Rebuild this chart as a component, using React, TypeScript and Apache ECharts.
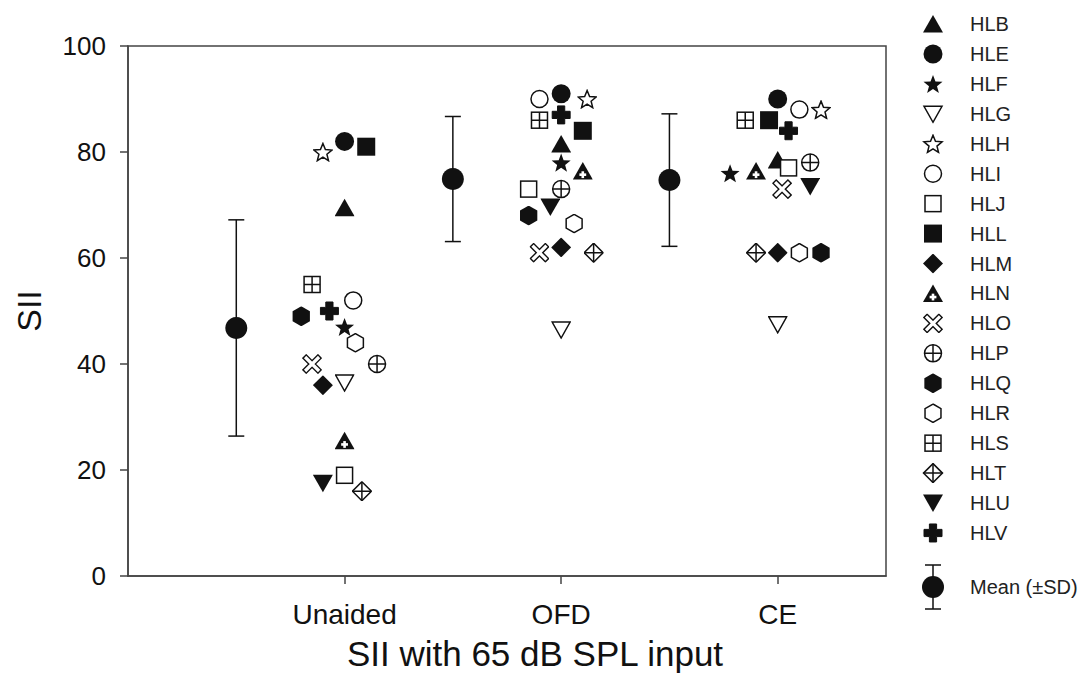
import React, { useEffect, useRef } from "react";
import * as echarts from "echarts";

// ---------- data ----------
const categories = ["Unaided", "OFD", "CE"];
const categoryPositions = [1, 2, 3];
const subjects = ["HLB", "HLE", "HLF", "HLG", "HLH", "HLI", "HLJ", "HLL", "HLM", "HLN", "HLO", "HLP", "HLQ", "HLR", "HLS", "HLT", "HLU", "HLV"];

// x positions (jittered around category positions) for each subject: [Unaided, OFD, CE]
const xUnaided = [1.0, 1.0, 1.0, 1.0, 0.9, 1.04, 1.0, 1.1, 0.9, 1.0, 0.85, 1.15, 0.8, 1.05, 0.85, 1.08, 0.9, 0.93];
const xOFD = [2.0, 2.0, 2.0, 2.0, 2.12, 1.9, 1.85, 2.1, 2.0, 2.1, 1.9, 2.0, 1.85, 2.06, 1.9, 2.15, 1.95, 2.0];
const xCE = [3.0, 3.0, 2.78, 3.0, 3.2, 3.1, 3.05, 2.96, 3.0, 2.9, 3.02, 3.15, 3.2, 3.1, 2.85, 2.9, 3.15, 3.05];

// SII values
const siiUnaided = [69.5, 82, 47, 36.5, 80, 52, 19, 81, 36, 25.5, 40, 40, 49, 44, 55, 16, 17.5, 50];
const siiOFD = [81.5, 91, 78, 46.5, 90, 90, 73, 84, 62, 76.4, 61, 73, 68, 66.5, 86, 61, 69.6, 87];
const siiCE = [78.5, 90, 76, 47.5, 88, 88, 77, 86, 61, 76.4, 73, 78, 61, 61, 86, 61, 73.5, 84];

// mean (+/- SD)
const meanPositions = [0.5, 1.5, 2.5];
const meanValues = [46.8, 74.9, 74.7];
const sdValues = [20.4, 11.8, 12.5];

const yTicks = [0, 20, 40, 60, 80, 100];

// ---------- symbols ----------
const K = "#111";
const OPEN = `fill="#fff" stroke="${K}" stroke-width="1.5"`;

function starPts(R: number, r: number, dy: number) {
  const pts: string[] = [];
  for (let i = 0; i < 10; i++) {
    const a = (-90 + i * 36) * Math.PI / 180;
    const rr = i % 2 === 0 ? R : r;
    pts.push((rr * Math.cos(a)).toFixed(2) + "," + (rr * Math.sin(a) + dy).toFixed(2));
  }
  return pts.join(" ");
}
const hexPts = (R: number) => {
  const p: string[] = [];
  for (let i = 0; i < 6; i++) {
    const a = (-90 + i * 60) * Math.PI / 180;
    p.push((R * Math.cos(a)).toFixed(2) + "," + (R * Math.sin(a)).toFixed(2));
  }
  return p.join(" ");
};

const shapes: Record<string, string> = {
  HLB: `<polygon points="0,-9 10,8.5 -10,8.5" fill="${K}"/>`,
  HLE: `<circle r="9.5" fill="${K}"/>`,
  HLF: `<polygon points="${starPts(10, 4.2, 1)}" fill="${K}"/>`,
  HLG: `<polygon points="-9,-7.5 9,-7.5 0,8.5" ${OPEN}/>`,
  HLH: `<polygon points="${starPts(9.5, 4.2, 1)}" ${OPEN}/>`,
  HLI: `<circle r="8.5" ${OPEN}/>`,
  HLJ: `<rect x="-8" y="-8" width="16" height="16" ${OPEN}/>`,
  HLL: `<rect x="-9" y="-9" width="18" height="18" fill="${K}"/>`,
  HLM: `<polygon points="0,-10 10,0 0,10 -10,0" fill="${K}"/>`,
  HLN: `<polygon points="0,-9 10,8.5 -10,8.5" fill="${K}"/><rect x="-1.3" y="0.2" width="2.6" height="6.8" fill="#fff"/><rect x="-3.4" y="2.3" width="6.8" height="2.6" fill="#fff"/>`,
  HLO: `<path d="M-8,-8 L8,8 M8,-8 L-8,8" stroke="${K}" stroke-width="6"/><path d="M-7,-7 L7,7 M7,-7 L-7,7" stroke="#fff" stroke-width="3.2"/>`,
  HLP: `<circle r="8.5" ${OPEN}/><path d="M0,-8.5V8.5M-8.5,0H8.5" stroke="${K}" stroke-width="1.5"/>`,
  HLQ: `<polygon points="${hexPts(10)}" fill="${K}"/>`,
  HLR: `<polygon points="${hexPts(9.2)}" ${OPEN}/>`,
  HLS: `<rect x="-8" y="-8" width="16" height="16" ${OPEN}/><path d="M0,-8V8M-8,0H8" stroke="${K}" stroke-width="1.5"/>`,
  HLT: `<polygon points="0,-9.5 9.5,0 0,9.5 -9.5,0" ${OPEN}/><path d="M0,-9.5V9.5M-9.5,0H9.5" stroke="${K}" stroke-width="1.5"/>`,
  HLU: `<polygon points="-10,-8.5 10,-8.5 0,9" fill="${K}"/>`,
  HLV: `<path d="M-3.6,-9 h7.2 v5.4 h5.4 v7.2 h-5.4 v5.4 h-7.2 v-5.4 h-5.4 v-7.2 h5.4 z" fill="${K}" stroke="${K}" stroke-width="1" stroke-linejoin="round"/>`,
};

const toImg = (svg: string) => "image://data:image/svg+xml;charset=utf-8," + encodeURIComponent(svg);
const markerImg = (inner: string) =>
  toImg(`<svg xmlns="http://www.w3.org/2000/svg" width="20" height="20" viewBox="-10 -10 20 20">${inner}</svg>`);
const legendImg = (inner: string) =>
  toImg(`<svg xmlns="http://www.w3.org/2000/svg" width="64" height="20" viewBox="-32 -10 64 20">${inner}</svg>`);
const meanLegendImg = toImg(
  `<svg xmlns="http://www.w3.org/2000/svg" width="64" height="48" viewBox="-32 -24 64 48"><path d="M0,-22V22M-8,-22H8M-8,22H8" stroke="${K}" stroke-width="1.5"/><circle r="11" fill="${K}"/></svg>`
);

const FONT = "Liberation Sans, Arial, sans-serif";

export default function App() {
  const ref = useRef<HTMLDivElement>(null);
  useEffect(() => {
    if (!ref.current) return;
    const chart = echarts.init(ref.current, null, { renderer: "svg" });

    const subjectSeries = subjects.map((name, i) => ({
      name,
      type: "scatter",
      symbol: markerImg(shapes[name]),
      symbolSize: 20,
      silent: true,
      emphasis: { disabled: true },
      itemStyle: { opacity: 1, color: K },
      z: 3,
      data: [
        [xUnaided[i], siiUnaided[i]],
        [xOFD[i], siiOFD[i]],
        [xCE[i], siiCE[i]],
      ],
    }));

    const errData = meanPositions.map((x, i) => [x, meanValues[i] - sdValues[i], meanValues[i] + sdValues[i]]);
    const meanData = meanPositions.map((x, i) => [x, meanValues[i]]);

    const option: any = {
      animation: false,
      backgroundColor: "#fff",
      textStyle: { fontFamily: FONT },
      grid: {
        left: 128,
        top: 46,
        width: 758,
        height: 530,
        show: true,
        borderColor: "#444",
        borderWidth: 1.5,
        backgroundColor: "transparent",
      },
      xAxis: {
        type: "value",
        min: 0,
        max: 3.5,
        name: "SII with 65 dB SPL input",
        nameLocation: "middle",
        nameGap: 60,
        nameTextStyle: { fontSize: 35, color: K, fontFamily: FONT, padding: [0, 0, 0, 56] },
        axisLine: { show: true, onZero: false, lineStyle: { color: "#444", width: 1.5 } },
        axisTick: { show: true, inside: false, length: 8, customValues: categoryPositions, lineStyle: { color: "#444", width: 1.5 } },
        axisLabel: {
          customValues: categoryPositions,
          formatter: (v: number) => {
            const idx = categoryPositions.indexOf(Math.round(v * 100) / 100);
            return idx >= 0 ? categories[idx] : "";
          },
          fontSize: 28,
          color: K,
          margin: 24,
          fontFamily: FONT,
        },
        splitLine: { show: false },
      },
      yAxis: {
        type: "value",
        min: 0,
        max: 100,
        interval: 20,
        name: "SII",
        nameLocation: "middle",
        nameGap: 82,
        nameTextStyle: { fontSize: 34, color: K, fontFamily: FONT },
        axisLine: { show: true, onZero: false, lineStyle: { color: "#444", width: 1.5 } },
        axisTick: { show: true, inside: false, length: 8, lineStyle: { color: "#444", width: 1.5 } },
        axisLabel: {
          fontSize: 26,
          color: K,
          margin: 22,
          fontFamily: FONT,
          formatter: (v: number) => (yTicks.indexOf(v) >= 0 ? String(v) : ""),
        },
        splitLine: { show: false },
      },
      legend: [
        {
          orient: "vertical",
          left: 901,
          top: 14,
          padding: 0,
          itemWidth: 64,
          itemHeight: 20,
          itemGap: 9.94,
          selectedMode: false,
          itemStyle: { opacity: 1 },
          textStyle: { fontSize: 20, color: "#222", fontFamily: FONT, lineHeight: 20 },
          data: subjects.map((name) => ({ name, icon: legendImg(shapes[name]) })),
        },
        {
          orient: "vertical",
          left: 901,
          top: 563,
          padding: 0,
          itemWidth: 64,
          itemHeight: 48,
          selectedMode: false,
          itemStyle: { opacity: 1 },
          textStyle: { fontSize: 20, color: "#222", fontFamily: FONT },
          data: [{ name: "Mean (±SD)", icon: meanLegendImg }],
        },
      ],
      series: [
        {
          name: "errorbars",
          type: "custom",
          silent: true,
          z: 2,
          renderItem: (params: any, api: any) => {
            const x = api.value(0);
            const lo = api.coord([x, api.value(1)]);
            const hi = api.coord([x, api.value(2)]);
            const style = { stroke: K, lineWidth: 1.5 };
            return {
              type: "group",
              children: [
                { type: "line", shape: { x1: lo[0], y1: lo[1], x2: hi[0], y2: hi[1] }, style },
                { type: "line", shape: { x1: hi[0] - 8, y1: hi[1], x2: hi[0] + 8, y2: hi[1] }, style },
                { type: "line", shape: { x1: lo[0] - 8, y1: lo[1], x2: lo[0] + 8, y2: lo[1] }, style },
              ],
            };
          },
          encode: { x: 0, y: [1, 2] },
          data: errData,
        },
        {
          name: "Mean (±SD)",
          type: "scatter",
          symbol: "circle",
          symbolSize: 22,
          silent: true,
          z: 3,
          itemStyle: { color: K, opacity: 1 },
          data: meanData,
        },
        ...subjectSeries,
      ],
    };
    chart.setOption(option);
    return () => chart.dispose();
  }, []);

  return (
    <div
      ref={ref}
      style={{ position: "fixed", left: 0, top: 0, width: 1079, height: 684, background: "#fff" }}
    />
  );
}
